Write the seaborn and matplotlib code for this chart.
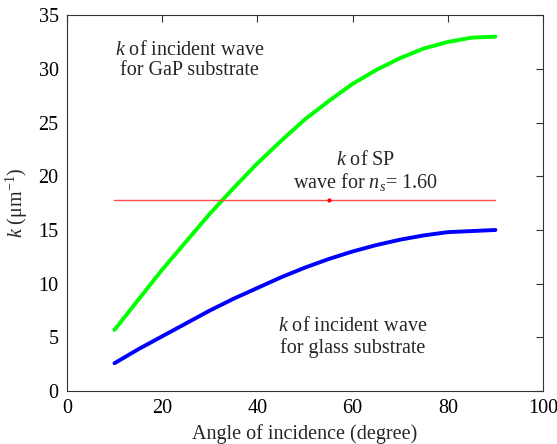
import numpy as np
import pandas as pd
import matplotlib
matplotlib.use("Agg")
import matplotlib.pyplot as plt
import seaborn as sns

# data
angle = [10, 15, 20, 25, 30, 35, 40, 45, 50, 55, 60, 65, 70, 75, 80, 85, 90]
k_gap = [5.7, 8.5, 11.3, 13.9, 16.5, 18.9, 21.2, 23.3, 25.3, 27.0, 28.6,
         29.9, 31.0, 31.9, 32.5, 32.9, 33.0]
k_glass = [2.6, 3.9, 5.1, 6.3, 7.5, 8.6, 9.6, 10.6, 11.5, 12.3, 13.0,
           13.6, 14.1, 14.5, 14.8, 14.9, 15.0]
sp_angle = [10, 90]
k_sp = [17.8, 17.8]
sp_dot_angle = [55]
sp_dot_k = [17.8]

sns.set_style("white")
plt.rcParams["font.family"] = ["Liberation Serif", "DejaVu Serif"]
plt.rcParams["mathtext.fontset"] = "custom"
plt.rcParams["mathtext.rm"] = "Liberation Serif"
plt.rcParams["mathtext.it"] = "Liberation Serif:italic"

df = pd.DataFrame({"angle": angle, "gap": k_gap, "glass": k_glass})

fs = 14.5
fig = plt.figure(figsize=(5.57, 4.44), dpi=100)
ax = fig.add_axes([0.120, 0.119, 0.855, 0.847])

sns.lineplot(data=df, x="angle", y="gap", color=(0, 1, 0), linewidth=2.8, ax=ax)
sns.lineplot(data=df, x="angle", y="glass", color=(0, 0, 1), linewidth=2.8, ax=ax)
sns.lineplot(x=sp_angle, y=k_sp, color=(1, 0.3, 0.3), linewidth=1.0, ax=ax)
ax.plot(sp_dot_angle, sp_dot_k, "o", color="red", markersize=2)

ax.set_xlim(0, 100)
ax.set_ylim(0, 35)
ax.set_xticks(range(0, 101, 20))
ax.set_yticks(range(0, 36, 5))
ax.tick_params(direction="in", length=5, width=0.8, labelsize=fs, pad=6,
               top=True, right=True, colors="#333333", labelcolor="black")
for s in ax.spines.values():
    s.set_color("#333333")
    s.set_linewidth(0.8)

ax.set_xlabel("Angle of incidence (degree)", fontsize=fs, labelpad=4)
ax.set_ylabel("$k$ ($\\mathrm{\\mu m}^{-1}$)", fontsize=fs, labelpad=6)

ax.text(25.8, 30.8, "$k$ of incident wave\nfor GaP substrate", ha="center",
        va="center", fontsize=fs, linespacing=1.1)
ax.text(62.8, 20.4, "$k$ of SP\nwave for $n_s$= 1.60", ha="center",
        va="center", fontsize=fs, linespacing=1.1)
ax.text(60.0, 5.0, "$k$ of incident wave\nfor glass substrate", ha="center",
        va="center", fontsize=fs, linespacing=1.1)

fig.savefig("out.png", dpi=100)
